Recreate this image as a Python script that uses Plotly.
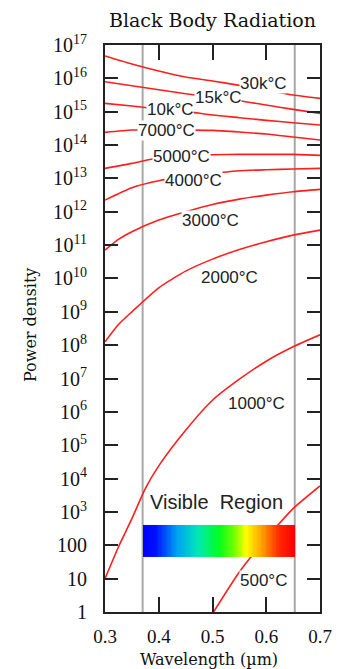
import numpy as np
import plotly.graph_objects as go

# ---------------- data (log10 of power density) -------------
WL = [0.30, 0.35, 0.40, 0.45, 0.50, 0.55, 0.60, 0.65, 0.70]
WL_FINE = [0.30, 0.325, 0.35, 0.40, 0.45, 0.50, 0.55, 0.60, 0.65, 0.70]
WL_1000 = [0.30, 0.325, 0.35, 0.375, 0.40, 0.45, 0.50, 0.55, 0.60, 0.65, 0.70]
WL_500 = [0.50, 0.55, 0.60, 0.65, 0.70]

LOG_30K = [16.67, 16.43, 16.22, 16.04, 15.92, 15.79, 15.65, 15.50, 15.40]
LOG_15K = [15.90, 15.78, 15.66, 15.54, 15.43, 15.33, 15.20, 15.07, 14.95]
LOG_10K = [15.25, 15.17, 15.08, 15.01, 14.90, 14.82, 14.74, 14.67, 14.60]
LOG_7000 = [14.38, 14.45, 14.46, 14.45, 14.44, 14.39, 14.33, 14.24, 14.15]
LOG_5000 = [13.30, 13.45, 13.62, 13.68, 13.71, 13.72, 13.72, 13.72, 13.69]
LOG_4000 = [12.35, 12.72, 12.93, 13.06, 13.15, 13.23, 13.26, 13.28, 13.30]
LOG_3000 = [10.85, 11.17, 11.40, 11.75, 12.00, 12.22, 12.38, 12.50, 12.60, 12.67]
LOG_2000 = [8.10, 8.62, 9.00, 9.72, 10.22, 10.58, 10.87, 11.10, 11.30, 11.45]
LOG_1000 = [1.00, 1.95, 2.80, 3.70, 4.38, 5.45, 6.35, 6.98, 7.52, 7.95, 8.31]
LOG_500 = [-0.05, 1.20, 2.20, 3.10, 3.78]

CURVE_NAMES = ["30k°C", "15k°C", "10k°C", "7000°C", "5000°C", "4000°C",
               "3000°C", "2000°C", "1000°C", "500°C"]

VISIBLE_LIMITS = [0.37, 0.653]          # grey vertical lines
BAR_WL = [0.3707, 0.6535]                # rainbow bar extent (wavelength)
BAR_P = [45.7, 407.0]                    # rainbow bar extent (power density)

Y_TICKVALS = [10 ** k for k in range(0, 18)]
Y_TICKTEXT = ["1", "10", "100"] + ["10<sup>%d</sup>" % k for k in range(3, 18)]
X_TICKVALS = [0.3, 0.4, 0.5, 0.6, 0.7]
X_TICKTEXT = ["0.3", "0.4", "0.5", "0.6", "0.7"]

# label positions (wavelength, log10 power)
LABELS = [
    ("30k°C", 0.594, 15.85), ("15k°C", 0.511, 15.44), ("10k°C", 0.421, 15.07),
    ("7000°C", 0.415, 14.45), ("5000°C", 0.443, 13.67), ("4000°C", 0.464, 12.95),
    ("3000°C", 0.497, 11.75), ("2000°C", 0.531, 10.04), ("1000°C", 0.581, 6.24),
    ("500°C", 0.594, 0.93),
]

BAR_COLORSCALE = [
    [0.00, "#0000ff"], [0.08, "#0010ff"], [0.22, "#00a0f4"], [0.36, "#00e8b8"],
    [0.50, "#00ff20"], [0.60, "#70ff00"], [0.68, "#ffff00"], [0.80, "#ff9000"],
    [0.90, "#ff2800"], [1.00, "#ff0000"],
]

# ---------------- figure ----------------
series = [
    (WL, LOG_30K), (WL, LOG_15K), (WL, LOG_10K), (WL, LOG_7000), (WL, LOG_5000),
    (WL, LOG_4000), (WL_FINE, LOG_3000), (WL_FINE, LOG_2000), (WL_1000, LOG_1000),
    (WL_500, LOG_500),
]

fig = go.Figure()
RED = "#ff1e1e"
for name, (xs, logs) in zip(CURVE_NAMES, series):
    fig.add_trace(go.Scatter(
        x=xs, y=[10 ** v for v in logs], mode="lines", name=name,
        line=dict(color=RED, width=1.6, shape="spline", smoothing=0.6),
        showlegend=False, hoverinfo="skip"))

# rainbow bar (on an overlaying axis so that it sits above the curves)
n_cols = 120
bar_edges = np.linspace(BAR_WL[0], BAR_WL[1], n_cols + 1)
fig.add_trace(go.Heatmap(
    x=bar_edges, y=BAR_P, z=[np.linspace(0, 1, n_cols)],
    colorscale=BAR_COLORSCALE, showscale=False, yaxis="y2", hoverinfo="skip",
    zmin=0, zmax=1))

for xv in VISIBLE_LIMITS:
    fig.add_shape(type="line", xref="x", yref="paper", x0=xv, x1=xv, y0=0, y1=1,
                  line=dict(color="#a8a8a8", width=2), layer="below")

annotations = []
for text, xv, lv in LABELS:
    annotations.append(dict(
        x=xv, y=lv, xref="x", yref="y", text=text, showarrow=False,
        font=dict(family="Liberation Sans", size=17, color="#222"),
        bgcolor="white", borderpad=0, xanchor="center", yanchor="middle"))
annotations.append(dict(
    x=0.508, y=3.30, xref="x", yref="y", text="Visible&nbsp; Region", showarrow=False,
    font=dict(family="Liberation Sans", size=20, color="#222"),
    xanchor="center", yanchor="middle"))
annotations.append(dict(
    x=0.5, y=1.044, xref="paper", yref="paper", text="Black Body Radiation",
    showarrow=False, font=dict(family="DejaVu Serif", size=19, color="#111"),
    xanchor="center", yanchor="middle"))
annotations.append(dict(
    x=0.484, y=-0.083, xref="paper", yref="paper", text="Wavelength (µm)",
    showarrow=False, font=dict(family="DejaVu Serif", size=16, color="#111"),
    xanchor="center", yanchor="middle"))
annotations.append(dict(
    x=-0.349, y=0.506, xref="paper", yref="paper", text="Power density",
    showarrow=False, textangle=-90,
    font=dict(family="DejaVu Serif", size=16, color="#111"),
    xanchor="center", yanchor="middle"))

axis_common = dict(showgrid=False, zeroline=False, showline=True, linecolor="#222",
                   linewidth=2, mirror="ticks", ticks="inside", tickwidth=2,
                   tickcolor="#222")

# the page body has an 8 px margin, so the figure is 8 px smaller on each side
fig.update_layout(
    width=335, height=661,
    margin=dict(l=97, r=23, t=37, b=57),
    paper_bgcolor="white", plot_bgcolor="white",
    xaxis=dict(range=[0.3, 0.7], tickvals=X_TICKVALS, ticktext=X_TICKTEXT,
               ticklen=15, ticklabelstandoff=6,
               tickfont=dict(family="Liberation Serif", size=19, color="#111"),
               **axis_common),
    yaxis=dict(type="log", range=[0, 17], tickvals=Y_TICKVALS, ticktext=Y_TICKTEXT,
               ticklen=13, ticklabelstandoff=12,
               tickfont=dict(family="Liberation Serif", size=20, color="#111"),
               **axis_common),
    yaxis2=dict(type="log", range=[0, 17], overlaying="y", visible=False),
    annotations=annotations,
)

fig.write_html("out.html")
